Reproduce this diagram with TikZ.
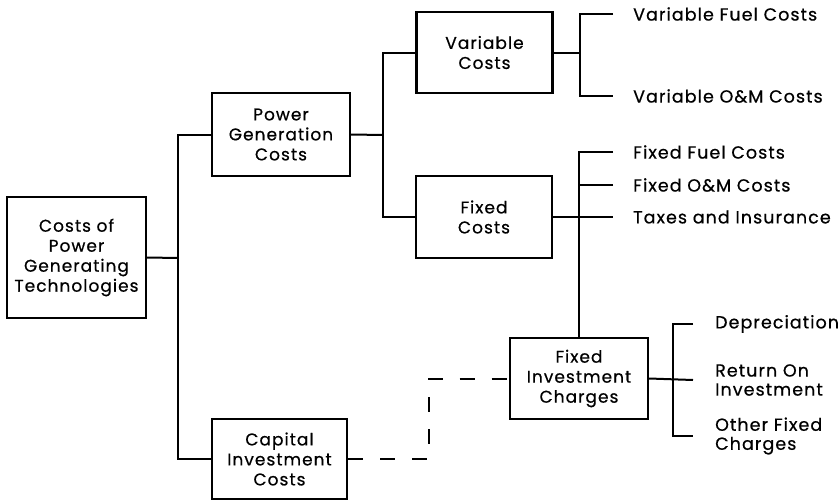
\documentclass[tikz,border=0pt]{standalone}
\usepackage{fontspec}
\setmainfont{Poppins}[LetterSpace=6,FakeBold=0.6]
\begin{document}
\begin{tikzpicture}[x=1pt,y=-1pt,
  box/.style={draw, line width=2.2pt, align=center, inner sep=0pt,
    font=\fontsize{17}{20}\selectfont},
  lbl/.style={anchor=west, align=left, inner xsep=20pt, inner ysep=0pt,
    font=\fontsize{17.5}{19}\selectfont},
  conn/.style={line width=2pt},
  dconn/.style={line width=2pt, dash pattern=on 15pt off 17pt}]
\useasboundingbox (0,0) rectangle (839,501);
% boxes
\node[box, minimum width=139pt, minimum height=121pt] (main) at (76.5,257.5) {Costs of\\Power\\Generating\\Technologies};
\node[box, minimum width=138pt, minimum height=83pt] (pgc) at (281,134.5) {Power\\Generation\\Costs};
\node[box, minimum width=136pt, minimum height=81pt] (vc) at (484.5,52.5) {Variable\\Costs};
\node[box, minimum width=136pt, minimum height=82pt] (fc) at (484,217) {Fixed\\Costs};
\node[box, minimum width=138pt, minimum height=81pt] (fic) at (579,378.5) {Fixed\\Investment\\Charges};
\node[box, minimum width=135pt, minimum height=80pt] (cic) at (279.5,459) {Capital\\Investment\\Costs};
% labels
\node[lbl] (vfc) at (613,14) {Variable Fuel Costs};
\node[lbl] (vom) at (613,96) {Variable O\&M Costs};
\node[lbl] (ffc) at (613,152) {Fixed Fuel Costs};
\node[lbl] (fom) at (613,185) {Fixed O\&M Costs};
\node[lbl] (tax) at (613,217) {Taxes and Insurance};
\node[lbl, inner xsep=22pt] (dep) at (693,324) {Depreciation};
\node[lbl, inner xsep=22pt] (roi) at (693,380) {Return On\\Investment};
\node[lbl, inner xsep=22pt] (ofc) at (693,436) {Other Fixed\\Charges};
% junction coordinates
\coordinate (t1) at (178,258);
\coordinate (t2) at (383,135);
\coordinate (t3) at (580,52.5);
\coordinate (t5) at (673,380);
\coordinate (dc) at (429,459);
% connectors
\draw[conn] (main.east) -- (t1);
\draw[conn] (pgc.west) -| (t1) |- (cic.west);
\draw[conn] (pgc.east) -- (t2);
\draw[conn] (vc.west) -| (t2) |- (fc.west);
\draw[conn] (vc.east) -- (t3);
\draw[conn] (vfc.west) -| (t3) |- (vom.west);
\draw[conn] (ffc.west) -| (fic.north);
\draw[conn] (fom.west) -- (fom.west -| fic.north);
\draw[conn] (fc.east) -- (tax.west);
\draw[conn] (fic.east) -- (roi.west);
\draw[conn] (dep.west) -| (t5) |- (ofc.west);
\draw[dconn] (cic.east) -- (dc) |- (fic.west);
\end{tikzpicture}
\end{document}
